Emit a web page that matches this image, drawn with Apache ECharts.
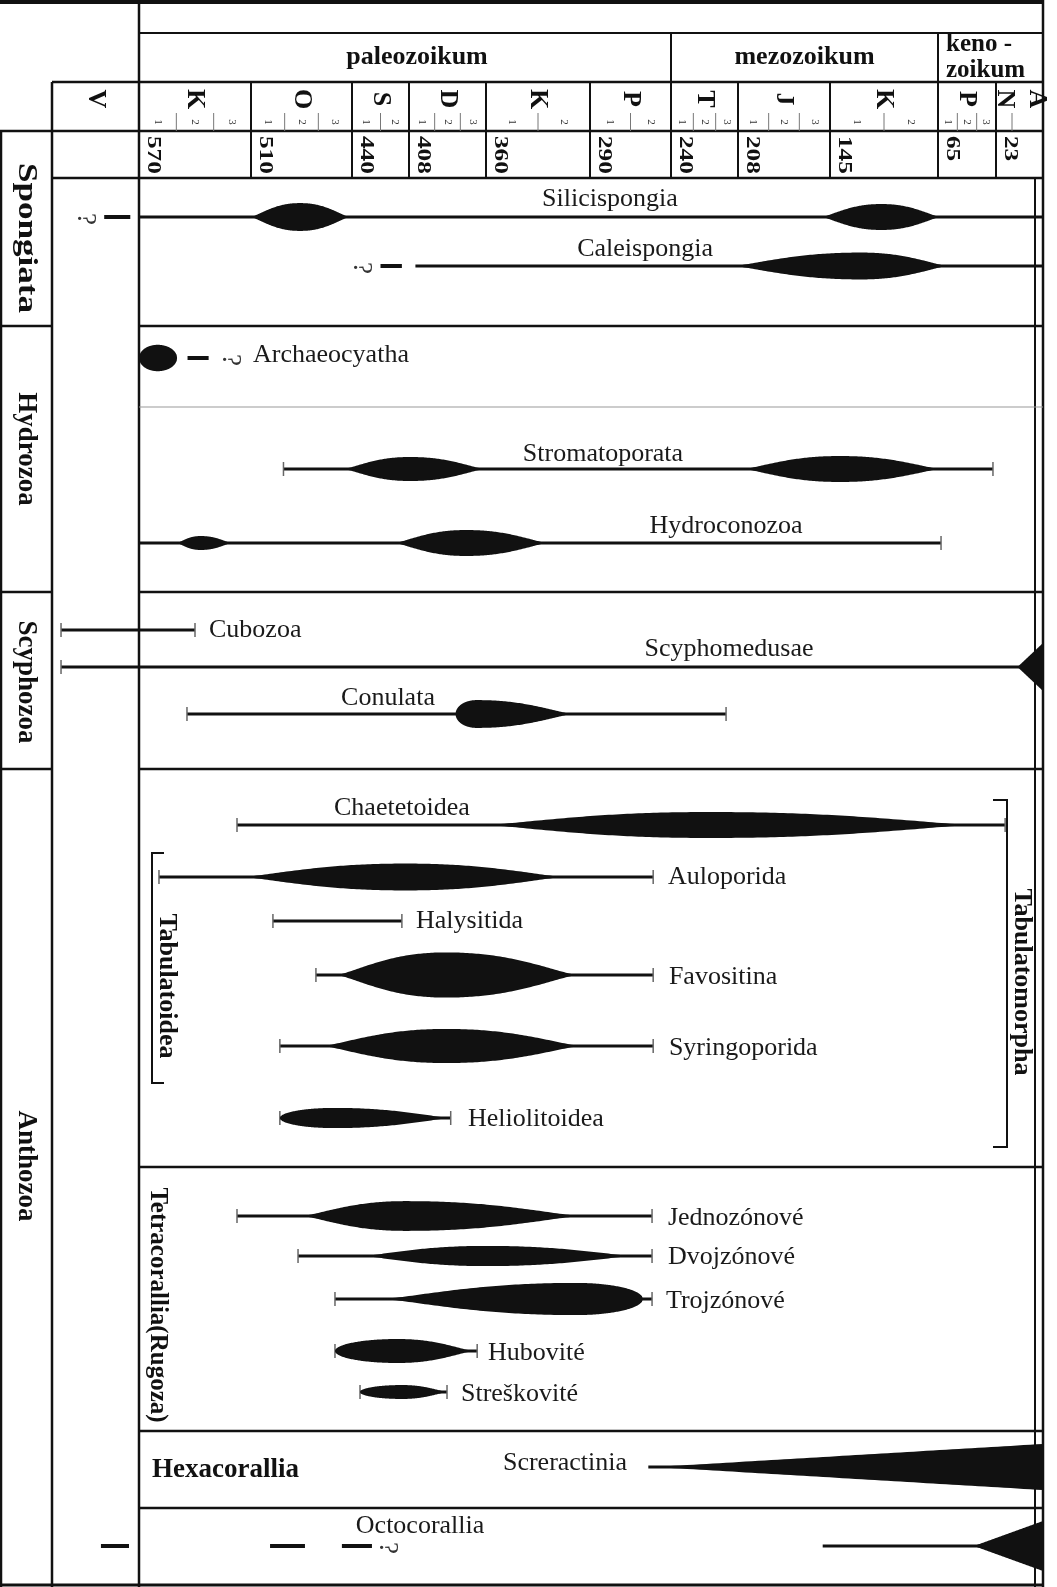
<!DOCTYPE html>
<html>
<head>
<meta charset="utf-8">
<script src="https://cdn.jsdelivr.net/npm/echarts@6/dist/echarts.min.js"></script>
<style>
html, body { margin: 0; padding: 0; background: #fff; }
#chart { width: 1057px; height: 1587px; }
</style>
</head>
<body>
<div id="chart"></div>
<script>
// time scale: boundary ages (Ma) and where they sit on the drawn (non-linear) scale
const scaleAges = [650, 570, 510, 440, 408, 360, 290, 240, 208, 145, 65, 23, 2, 0];
const scalePos = [0, 87, 199, 300, 357, 434, 538, 619, 686, 778, 886, 944, 976, 991];

const eras = ['paleozoikum', 'mezozoikum', 'keno -', 'zoikum'];

const periods = ['V', 'K', 'O', 'S', 'D', 'K', 'P', 'T', 'J', 'K', 'P', 'N', 'A'];
const periodStart = [650, 570, 510, 440, 408, 360, 290, 240, 208, 145, 65, 23, 2];
const periodEnd = [570, 510, 440, 408, 360, 290, 240, 208, 145, 65, 23, 2, 0];
const periodSubs = [0, 3, 3, 2, 3, 2, 2, 3, 3, 2, 3, 2, 0];
const ageTicks = ['', '570', '510', '440', '408', '360', '290', '240', '208', '145', '65', '23', ''];

const groups = ['Spongiata', 'Hydrozoa', 'Scyphozoa', 'Anthozoa'];

const taxa = ['Silicispongia', 'Caleispongia', 'Archaeocyatha', 'Stromatoporata', 'Hydroconozoa',
  'Cubozoa', 'Scyphomedusae', 'Conulata', 'Chaetetoidea', 'Auloporida', 'Halysitida', 'Favositina',
  'Syringoporida', 'Heliolitoidea', 'Jednozónové', 'Dvojzónové', 'Trojzónové', 'Hubovité', 'Streškovité',
  'Screractinia', 'Octocorallia'];

// documented range of each taxon (Ma), null = no continuous range
const rangeFrom = [570, 404, null, 487.5, 570, 641.7, 641.7, 544.3, 517.5, 559.3, 494.8, 465, 490, 490, 517.5, 477.4, 451.8, 451.8, 435.5, 254, 150];
const rangeTo = [0, 0, null, 25.2, 62.8, 540, 0, 213.7, 17, 251, 412, 251, 251, 382, 251.7, 251.7, 251.7, 365.5, 384.3, 0, 0];
// closed ends: 0 none, 1 first appearance, 2 last appearance, 3 both
const rangeClosed = [0, 0, 0, 3, 2, 3, 1, 3, 3, 3, 3, 3, 3, 3, 3, 3, 3, 3, 3, 0, 0];

// abundance spindles: taxon, start, maximum, end (Ma), relative abundance
const spindleTaxon = [0, 0, 1, 2, 3, 3, 4, 4, 6, 7, 8, 9, 11, 12, 13, 14, 15, 16, 17, 18, 19, 20];
const spindleFrom = [510, 150.5, 210, 570, 445.6, 203.9, 549.6, 415.9, 8.9, 379, 360, 514.3, 450.4, 460, 490, 474, 433.8, 422.6, 451.8, 435.5, 250, 39];
const spindlePeak = [476, 107, 122, 560, 407.4, 137.6, 537, 372.5, 0, 366, 221.8, 410, 385.2, 385, 452.5, 410, 360, 299, 414.7, 412, 0, 0];
const spindleTo = [442, 63.6, 58.5, 549.6, 361.2, 63.6, 520.7, 319, 0, 302, 40.4, 308, 298.8, 296.7, 382, 296.7, 263.5, 257.3, 368, 384.3, 0, 0];
const spindleAbundance = [0.58, 0.54, 0.56, 0.55, 0.5, 0.54, 0.29, 0.54, 1.0, 0.58, 0.54, 0.56, 0.94, 0.71, 0.42, 0.62, 0.42, 0.67, 0.5, 0.29, 0.96, 1.04];

// uncertain occurrences (dashed) and question marks
const dashTaxon = [0, 1, 2, 20, 20, 20];
const dashFrom = [602, 424, 544, 605, 496.8, 447];
const dashTo = [578, 412, 532.7, 579.2, 472.6, 428.8];
const queryTaxon = [0, 1, 2, 20];
const queryAge = [620, 435, 521, 420.4];

// ---- layout (pixels / styling) ----
const rowY = [217, 266, 358, 469, 543, 630, 667, 714, 825, 877, 921, 975, 1046, 1118, 1216, 1256, 1299, 1351, 1392, 1467, 1546];
const labelAt = [277.7, 256, 508.6, 282, 213.7, 532.5, 212.3, 419.8, 412, 241.9, 403.6, 241.3, 241.3, 371.2, 241.9, 241.9, 243.1, 358.7, 375.6, 348.6, 401.1];
const labelDy = [-18, -17, -3, -15, -17, 0, -18, -16, -17, 0, 0, 2, 2, 1, 2, 1, 2, 2, 2, -4, -20];
const labelCenter = [1, 1, 0, 1, 1, 0, 1, 1, 1, 0, 0, 0, 0, 0, 0, 0, 0, 0, 0, 0, 1];
const spindleEnds = ['taper-taper', 'taper-taper', 'taper-taper', 'round-round', 'taper-taper', 'taper-taper',
  'taper-taper', 'taper-taper', 'wedge-wedge', 'round-taper', 'taper-taper', 'taper-taper', 'taper-taper',
  'taper-taper', 'round-taper', 'taper-taper', 'taper-taper', 'taper-round', 'round-taper', 'round-taper',
  'wedge-wedge', 'wedge-wedge'];
const spindleMax = 24;
const shapeKinds = ['taper', 'round', 'wedge'];

const SERIF = '"Liberation Serif", "Times New Roman", serif';
const INK = '#111';

function ageToPos(age) {
  for (let i = 0; i < scaleAges.length - 1; i++) {
    const a0 = scaleAges[i], a1 = scaleAges[i + 1];
    if (age <= a0 && age >= a1) {
      return scalePos[i] + (a0 - age) / (a0 - a1) * (scalePos[i + 1] - scalePos[i]);
    }
  }
  return age > scaleAges[0] ? scalePos[0] : scalePos[scalePos.length - 1];
}

function profile(u, kind) {
  if (kind === 'round') return Math.sqrt(Math.max(0, 1 - u * u));
  if (kind === 'wedge') return 1 - u;
  return Math.pow(Math.max(0, 1 - Math.pow(u, 2.2)), 1.3);
}

const rangeData = [];
taxa.forEach((t, i) => {
  if (rangeFrom[i] == null) return;
  rangeData.push([ageToPos(rangeFrom[i]), ageToPos(rangeTo[i]), rowY[i], rangeClosed[i]]);
});

const spindleData = spindleTaxon.map((t, i) => {
  const ends = spindleEnds[i].split('-');
  return [ageToPos(spindleFrom[i]), ageToPos(spindlePeak[i]), ageToPos(spindleTo[i]), rowY[t],
    spindleAbundance[i] * spindleMax, shapeKinds.indexOf(ends[0]), shapeKinds.indexOf(ends[1])];
});

const dashData = dashTaxon.map((t, i) => [ageToPos(dashFrom[i]), ageToPos(dashTo[i]), rowY[t]]);
const queryData = queryTaxon.map((t, i) => [ageToPos(queryAge[i]), rowY[t]]);
const labelData = taxa.map((t, i) => [ageToPos(labelAt[i]), rowY[i] + labelDy[i], labelCenter[i]]);

function tick(p) {
  return { type: 'line', shape: { x1: p[0], y1: p[1] - 7, x2: p[0], y2: p[1] + 7 }, style: { stroke: '#666', lineWidth: 1.5 } };
}

const option = {
  animation: false,
  backgroundColor: '#fff',
  grid: { left: 52, right: 14, top: 0, bottom: 0 },
  xAxis: { type: 'value', min: 0, max: 991, show: false },
  yAxis: { type: 'value', min: 0, max: 1587, inverse: true, show: false },
  series: [
    {
      type: 'custom', name: 'ranges', clip: false, z: 3,
      data: rangeData,
      renderItem(params, api) {
        const a = api.coord([api.value(0), api.value(2)]);
        const b = api.coord([api.value(1), api.value(2)]);
        const code = api.value(3);
        const children = [{ type: 'line', shape: { x1: a[0], y1: a[1], x2: b[0], y2: b[1] }, style: { stroke: INK, lineWidth: 3 } }];
        if (code & 1) children.push(tick(a));
        if (code & 2) children.push(tick(b));
        return { type: 'group', children };
      }
    },
    {
      type: 'custom', name: 'uncertain', clip: false, z: 3,
      data: dashData,
      renderItem(params, api) {
        const a = api.coord([api.value(0), api.value(2)]);
        const b = api.coord([api.value(1), api.value(2)]);
        return { type: 'line', shape: { x1: a[0], y1: a[1], x2: b[0], y2: b[1] }, style: { stroke: INK, lineWidth: 4 } };
      }
    },
    {
      type: 'custom', name: 'abundance', clip: false, z: 4,
      data: spindleData,
      renderItem(params, api) {
        const y = api.value(3);
        const s = api.coord([api.value(0), y]);
        const p = api.coord([api.value(1), y]);
        const e = api.coord([api.value(2), y]);
        const h = api.size([0, api.value(4)])[1];
        const k0 = shapeKinds[api.value(5)], k1 = shapeKinds[api.value(6)];
        const n = 60, top = [], bot = [];
        for (let k = 0; k <= n; k++) {
          const x = s[0] + (p[0] - s[0]) * k / n;
          const hh = h * profile(1 - k / n, k0);
          top.push([x, s[1] - hh]); bot.push([x, s[1] + hh]);
        }
        for (let k = 1; k <= n; k++) {
          const x = p[0] + (e[0] - p[0]) * k / n;
          const hh = h * profile(k / n, k1);
          top.push([x, s[1] - hh]); bot.push([x, s[1] + hh]);
        }
        return { type: 'polygon', shape: { points: top.concat(bot.reverse()) }, style: { fill: INK } };
      }
    },
    {
      type: 'custom', name: 'query', clip: false, z: 4,
      data: queryData,
      renderItem(params, api) {
        const c = api.coord([api.value(0), api.value(1)]);
        return { type: 'text', x: c[0], y: c[1] + 2, rotation: -Math.PI / 2,
          style: { text: '?', font: '27px ' + SERIF, fill: '#333', textAlign: 'center', textVerticalAlign: 'middle' } };
      }
    },
    {
      type: 'custom', name: 'labels', clip: false, z: 5,
      data: labelData,
      renderItem(params, api) {
        const c = api.coord([api.value(0), api.value(1)]);
        return { type: 'text', x: c[0], y: c[1],
          style: { text: taxa[params.dataIndex], font: '26px ' + SERIF, fill: '#1a1a1a',
            textAlign: api.value(2) ? 'center' : 'left', textVerticalAlign: 'middle' } };
      }
    }
  ]
};

const chart = echarts.init(document.getElementById('chart'));
chart.setOption(option);

// ---- table frame and time-scale header ----
function X(age) { return chart.convertToPixel({ xAxisIndex: 0 }, ageToPos(age)); }
function hl(x1, x2, y, w, c) { return { type: 'line', silent: true, shape: { x1, y1: y, x2, y2: y }, style: { stroke: c || INK, lineWidth: w || 2 } }; }
function vl(x, y1, y2, w, c) { return { type: 'line', silent: true, shape: { x1: x, y1, x2: x, y2 }, style: { stroke: c || INK, lineWidth: w || 2 } }; }
function txt(text, x, y, font, opt) {
  opt = opt || {};
  return { type: 'text', silent: true, x, y, rotation: opt.rot || 0, scaleX: opt.sx || 1, scaleY: 1,
    style: { text, font, fill: opt.fill || INK, textAlign: opt.align || 'center', textVerticalAlign: opt.valign || 'middle' } };
}

function buildTable() {
  const el = [];
  const xV = X(650), x0 = X(570), xE = X(0);
  const ROT = -Math.PI / 2;
  const B = 'bold ';
  // outer frame and header rows
  el.push(hl(0, xE + 1, 2, 4));
  el.push(vl(xE, 0, 1587, 2.5));
  el.push(vl(xE - 8, 178, 1587, 2));
  el.push(vl(x0, 0, 1587, 2.5));
  el.push(vl(xV, 82, 1587, 2.5));
  el.push(vl(1, 131, 1587, 2.5));
  el.push(hl(0, xE, 1585, 3));
  el.push(hl(x0, xE, 33, 2));
  el.push(hl(xV, xE, 82, 2.5));
  el.push(hl(0, xE, 131, 2.5));
  el.push(hl(xV, xE, 178, 2.5));
  // eras
  el.push(vl(X(240), 33, 82, 2));
  el.push(vl(X(65), 33, 82, 2));
  el.push(txt(eras[0], 417, 57, B + '26px ' + SERIF));
  el.push(txt(eras[1], (X(240) + X(65)) / 2, 57, B + '26px ' + SERIF));
  el.push(txt(eras[2], X(65) + 8, 45, B + '25px ' + SERIF, { align: 'left' }));
  el.push(txt(eras[3], X(65) + 8, 71, B + '25px ' + SERIF, { align: 'left' }));
  // periods, sub-epochs, boundary ages
  periods.forEach((p, i) => {
    const a = X(periodStart[i]), b = X(periodEnd[i]);
    if (i > 0 && i < periods.length - 1) el.push(vl(a, 82, 178, 2));
    const lx = p === 'N' ? a + 9 : (p === 'A' ? b - 6 : (a + b) / 2);
    el.push(txt(p, lx, 99, B + '26px ' + SERIF, { rot: ROT }));
    const n = periodSubs[i];
    for (let k = 0; k < n; k++) {
      const w = (b - a) / n;
      if (k > 0) el.push(vl(a + k * w, 113, 131, 1, '#777'));
      if (periods[i] !== 'N') el.push(txt(String(k + 1), a + (k + 0.5) * w, 122, '11px ' + SERIF, { rot: ROT, fill: '#333' }));
    }
    if (ageTicks[i]) el.push(txt(ageTicks[i], a + 14, 136, B + '18px ' + SERIF, { rot: ROT, align: 'left', sx: 1.4 }));
  });
  // body sections
  [326, 592, 769].forEach(y => el.push(hl(0, xV, y, 2.5)));
  [326, 592, 769, 1167, 1431, 1508].forEach(y => el.push(hl(x0, xE, y, 2.5)));
  el.push(hl(x0, xE, 407, 1, '#999'));
  // group names
  const gy = [238, 449, 682, 1166];
  groups.forEach((g, i) => el.push(txt(g, 26, gy[i], B + '27px ' + SERIF, { rot: ROT, sx: i === 0 ? 1.3 : 1 })));
  // sub-groups and brackets
  el.push({ type: 'polyline', silent: true, shape: { points: [[164, 853], [152, 853], [152, 1083], [164, 1083]] }, style: { stroke: INK, lineWidth: 2, fill: null } });
  el.push(txt('Tabulatoidea', 167, 986, B + '26px ' + SERIF, { rot: ROT }));
  el.push({ type: 'polyline', silent: true, shape: { points: [[993, 800], [1007, 800], [1007, 1147], [993, 1147]] }, style: { stroke: INK, lineWidth: 2, fill: null } });
  el.push(txt('Tabulatomorpha', 1022, 982, B + '26px ' + SERIF, { rot: ROT }));
  el.push(txt('Tetracorallia(Rugoza)', 157, 1305, B + '25px ' + SERIF, { rot: ROT }));
  el.push(txt('Hexacorallia', 152, 1470, B + '27px ' + SERIF, { align: 'left' }));
  return el;
}

chart.setOption({ graphic: { elements: buildTable() } });
</script>
</body>
</html>
